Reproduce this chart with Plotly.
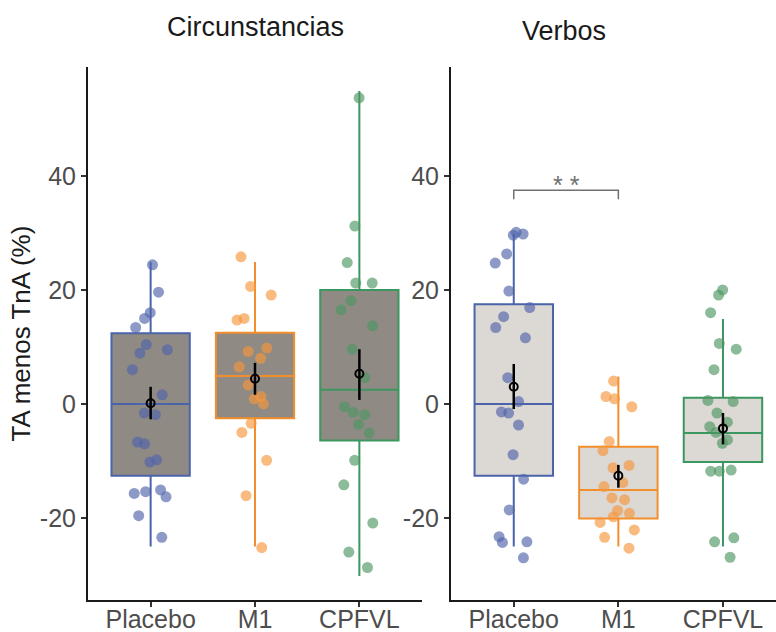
import plotly.graph_objects as go

groups = ["Placebo", "M1", "CPFVL"]
panels = ["Circunstancias", "Verbos"]

# Circunstancias raw values
circ_placebo = [24.4, 19.6, 16.0, 15.0, 13.4, 10.4, 9.5, 8.9, 6.0, 1.6, -1.6, -1.9,
                -6.7, -7.0, -9.8, -10.2, -15.1, -15.4, -15.7, -16.3, -19.6, -23.4]
circ_m1 = [25.8, 20.6, 19.1, 15.0, 14.7, 9.8, 9.2, 8.0, 6.5, 3.3, 1.3, 0.9, 0.0,
           -3.4, -5.0, -9.9, -16.1, -25.2]
circ_cpfvl = [53.7, 31.2, 24.8, 21.2, 21.2, 18.1, 16.5, 13.7, 9.6, 4.6, -0.5, -1.5,
              -1.9, -3.6, -5.1, -9.9, -14.2, -20.9, -26.0, -28.7]

# Verbos raw values
verb_placebo = [30.1, 29.8, 29.6, 26.3, 24.7, 19.8, 16.9, 15.3, 13.4, 11.6, 4.6, 0.4,
                -1.4, -1.6, -3.7, -8.9, -13.2, -18.6, -23.3, -24.3, -24.2, -27.0]
verb_m1 = [4.0, 1.3, 0.9, -0.5, -6.6, -8.2, -10.8, -11.2, -13.8, -14.5, -16.5, -16.8,
           -18.7, -19.2, -19.8, -20.8, -22.1, -23.4, -25.3]
verb_cpfvl = [20.0, 19.1, 16.0, 10.6, 9.6, 6.0, 0.6, 0.4, -1.6, -3.2, -4.0, -5.0,
              -6.3, -6.9, -11.6, -11.8, -11.8, -23.5, -24.2, -26.9]

# Box statistics
circ_q1 = [-12.6, -2.5, -6.4]
circ_med = [0.0, 4.9, 2.5]
circ_q3 = [12.4, 12.5, 20.0]
circ_lo = [-25.0, -25.0, -30.2]
circ_hi = [24.9, 24.9, 54.9]
circ_mean = [0.1, 4.4, 5.3]
circ_ci_hi = [3.0, 7.2, 9.6]
circ_ci_lo = [-2.7, 1.6, 0.7]

verb_q1 = [-12.6, -20.1, -10.2]
verb_med = [0.0, -15.1, -5.1]
verb_q3 = [17.5, -7.5, 1.1]
verb_lo = [-25.0, -25.0, -25.0]
verb_hi = [29.8, 4.8, 14.9]
verb_mean = [3.0, -12.6, -4.3]
verb_ci_hi = [7.0, -10.7, -1.6]
verb_ci_lo = [-0.9, -14.7, -7.1]

y_ticks = [-20, 0, 20, 40]
y_tick_text = ["-20", "0", "20", "40"]

line_colors = ["#4a63ab", "#f28f2c", "#3b9660"]
point_colors = ["rgba(80,100,170,0.65)", "rgba(246,150,60,0.65)", "rgba(78,150,98,0.65)"]
fills = ["#908a85", "#dcd8d4"]
FONT = "Arial, Liberation Sans, sans-serif"

fig = go.Figure()

panel_data = [
    (1, [circ_placebo, circ_m1, circ_cpfvl], circ_q1, circ_med, circ_q3, circ_lo, circ_hi,
     circ_mean, circ_ci_hi, circ_ci_lo),
    (2, [verb_placebo, verb_m1, verb_cpfvl], verb_q1, verb_med, verb_q3, verb_lo, verb_hi,
     verb_mean, verb_ci_hi, verb_ci_lo),
]

for (p, raws, q1, med, q3, lo, hi, mean, cih, cil) in panel_data:
    xa = "x" if p == 1 else "x2"
    ya = "y" if p == 1 else "y2"
    for i, g in enumerate(groups):
        fig.add_trace(go.Box(
            x=[g], q1=[q1[i]], median=[med[i]], q3=[q3[i]],
            lowerfence=[lo[i]], upperfence=[hi[i]],
            width=0.75, whiskerwidth=0, boxpoints=False,
            fillcolor=fills[p - 1], line=dict(color=line_colors[i], width=2),
            xaxis=xa, yaxis=ya, showlegend=False, hoverinfo="skip"))
    for i, g in enumerate(groups):
        fig.add_trace(go.Box(
            x=[g] * len(raws[i]), y=raws[i], width=0.75,
            boxpoints="all", jitter=0.55, pointpos=0,
            fillcolor="rgba(0,0,0,0)", line=dict(color="rgba(0,0,0,0)", width=0),
            marker=dict(color=point_colors[i], size=11, line=dict(width=0)),
            xaxis=xa, yaxis=ya, showlegend=False))
    fig.add_trace(go.Scatter(
        x=groups, y=mean, mode="markers",
        marker=dict(symbol="circle-open", size=8, color="black", line=dict(width=2, color="black")),
        error_y=dict(type="data", symmetric=False,
                     array=[h - m for h, m in zip(cih, mean)],
                     arrayminus=[m - l for l, m in zip(cil, mean)],
                     color="black", thickness=2.5, width=0),
        xaxis=xa, yaxis=ya, showlegend=False))

# significance bracket (Verbos: Placebo vs M1)
sig_y = 37.5
sig_drop = 35.9
fig.add_shape(type="path", xref="x2", yref="y2",
              path=f"M 0,{sig_drop} L 0,{sig_y} L 1,{sig_y} L 1,{sig_drop}",
              line=dict(color="#707070", width=1.5))
fig.add_annotation(x=0.5, y=sig_y, xref="x2", yref="y2", text="* *", showarrow=False,
                   yanchor="bottom", yshift=-11, font=dict(family=FONT, size=25, color="#707070"))

fig.add_annotation(x=1, y=1.0, xref="x", yref="paper", text=panels[0], showarrow=False,
                   yanchor="middle", yshift=-27, font=dict(family=FONT, size=27, color="#1a1a1a"))
fig.add_annotation(x=608 / 776, y=1.0, xref="paper", yref="paper", text=panels[1], showarrow=False,
                   yanchor="middle", yshift=-31, font=dict(family=FONT, size=27, color="#1a1a1a"))

axis_common = dict(showline=True, linecolor="#1a1a1a", linewidth=2, ticks="outside",
                   ticklen=5, tickwidth=1.5, tickcolor="#333333", showgrid=False, zeroline=False,
                   automargin=False,
                   tickfont=dict(family=FONT, size=25, color="#4d4d4d"))

yr = [-34.4, 59.1]
fig.update_layout(
    width=776, height=632, margin=dict(l=0, r=0, t=0, b=0),
    paper_bgcolor="white", plot_bgcolor="white", boxmode="overlay",
    xaxis=dict(domain=[88 / 776, 422 / 776], range=[-0.6, 2.6], type="category",
               categoryorder="array", categoryarray=groups, ticklabelstandoff=-9, **axis_common),
    xaxis2=dict(domain=[451 / 776, 1.0], range=[-0.6, 2.507], type="category",
                categoryorder="array", categoryarray=groups, anchor="y2", ticklabelstandoff=-9,
                **axis_common),
    yaxis=dict(domain=[32 / 632, 565 / 632], range=yr, tickvals=y_ticks, ticktext=y_tick_text,
               title=dict(text="TA menos TnA (%)", font=dict(family=FONT, size=26, color="#1a1a1a"),
                          standoff=2),
               **axis_common),
    yaxis2=dict(domain=[32 / 632, 565 / 632], range=yr, tickvals=y_ticks, ticktext=y_tick_text,
                anchor="x2", **axis_common),
    font=dict(family=FONT),
)

fig.write_html("out.html")
